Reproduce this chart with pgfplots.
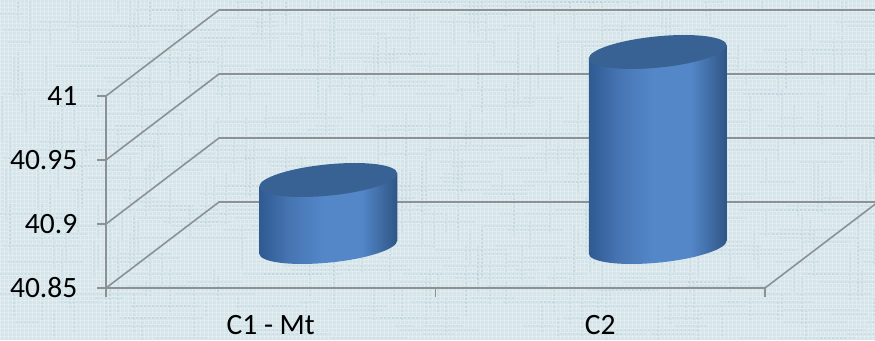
\documentclass[border=0pt]{standalone}
\usepackage{fontspec}
\setmainfont{Carlito}
\usepackage{pgfplots}
\pgfplotsset{compat=1.18}
\usepackage{pgfplotstable}
\definecolor{paper}{HTML}{D6E5EA}
\definecolor{weave}{HTML}{B4CDD8}
\definecolor{gridgray}{HTML}{8C9294}
\definecolor{cyltop}{HTML}{386294}
\definecolor{cylL}{HTML}{2F5A92}
\definecolor{cylM1}{HTML}{4775B3}
\definecolor{cylM2}{HTML}{5387C8}
\definecolor{cylR}{HTML}{2F5585}
\pgfdeclarehorizontalshading{cylside}{100bp}{
  color(0bp)=(cylL); color(25bp)=(cylL); color(36bp)=(cylM1); color(48bp)=(cylM2); color(62bp)=(cylM2);
  color(75bp)=(cylR); color(100bp)=(cylR)}

\pgfplotstableread{
x val
0 40.9
1 41.0
}\bars

% Upright cylinder standing in the middle of the chart floor; the plot point
% sits on the front wall, so the solid is pushed back by half the floor depth.
\pgfdeclareplotmark{cylinder}{%
  \pgfmathsetmacro\barh{(\val-40.85)*1280+3}%
  \pgftransformcm{1}{0.094}{0}{1}{\pgfqpoint{57.5pt}{44pt}}%
  \pgfpathmoveto{\pgfqpoint{-69pt}{0pt}}%
  \pgfpathlineto{\pgfpoint{-69pt}{-\barh pt}}%
  \pgfpatharc{180}{360}{69pt and 15.7pt}%
  \pgfpathlineto{\pgfqpoint{69pt}{0pt}}%
  \pgfpathclose
  \pgfshadepath{cylside}{0}%
  \pgfusepath{discard}%
  \pgfsetfillcolor{cyltop}%
  \pgfpathellipse{\pgfqpoint{0pt}{0pt}}{\pgfqpoint{69pt}{0pt}}{\pgfqpoint{0pt}{15.7pt}}%
  \pgfusepath{fill}%
}

\begin{document}
\begin{tikzpicture}[x=1pt,y=1pt]
  % woven paper backdrop: fine lattice plus scattered slubs
  \path[use as bounding box] (0,0) rectangle (875,340);
  \fill[paper] (0,0) rectangle (875,340);
  \begin{scope}
    \clip (0,0) rectangle (875,340);
    \foreach \i in {0,4,...,872} \draw[white,opacity=.25,line width=1pt] (\i,0) -- (\i,340);
    \foreach \j in {0,4,...,340} \draw[white,opacity=.25,line width=1pt] (0,\j) -- (875,\j);
    \pgfmathsetseed{7}
    \foreach \n in {1,...,420} {
      \pgfmathsetmacro\px{4*int(rnd*219)}
      \pgfmathsetmacro\py{4*int(rnd*85)+2}
      \pgfmathsetmacro\len{16+rnd*70}
      \draw[weave,opacity=.3,line width=1.5pt,dash pattern=on 2pt off 2pt] (\px,\py) -- ++(\len,0);
    }
    \foreach \n in {1,...,420} {
      \pgfmathsetmacro\px{4*int(rnd*219)+2}
      \pgfmathsetmacro\py{4*int(rnd*85)}
      \pgfmathsetmacro\len{12+rnd*40}
      \draw[weave,opacity=.3,line width=1.5pt,dash pattern=on 2pt off 2pt] (\px,\py) -- ++(0,\len);
    }
  \end{scope}
  \begin{axis}[
    at={(106pt,52pt)}, anchor=south west,
    scale only axis, width=659pt, height=192pt,
    xmin=-0.5, xmax=1.5, ymin=40.85, ymax=41,
    clip=false,
    axis lines=left, axis line style={-,gridgray,line width=1.6pt},
    every tick/.style={gridgray,line width=1.6pt},
    major tick length=9pt, tick align=outside,
    xtick={-0.5,0.5,1.5}, x tick label as interval,
    xticklabels={C1 - Mt,C2},
    ytick={40.85,40.9,40.95,41},
    yticklabels={40.85,40.9,40.95,41},
    tick label style={font=\fontsize{29.5}{32}\selectfont,text=black},
    xticklabel style={anchor=base,yshift=-38pt,inner sep=0pt},
    yticklabel style={anchor=east,xshift=-19.5pt,inner sep=0pt},
  ]
    % side walls and floor edges
    \addplot[gridgray,line width=1.6pt] coordinates {(-0.5,40.85) (-0.157,40.9172) (1.843,40.9172)};
    \addplot[gridgray,line width=1.6pt] coordinates {(-0.5,40.90) (-0.157,40.9672) (1.843,40.9672)};
    \addplot[gridgray,line width=1.6pt] coordinates {(-0.5,40.95) (-0.157,41.0172) (1.843,41.0172)};
    \addplot[gridgray,line width=1.6pt] coordinates {(-0.5,41.00) (-0.157,41.0672) (1.843,41.0672)};
    \addplot[gridgray,line width=1.6pt] coordinates {(1.5,40.85) (1.843,40.9172)};
    % the two values
    \addplot[scatter,only marks,mark=cylinder,point meta=y,
      scatter/use mapped color={draw=none,fill=none},
      visualization depends on={rawy\as\val}] table[x=x,y=val] {\bars};
  \end{axis}
\end{tikzpicture}
\end{document}
